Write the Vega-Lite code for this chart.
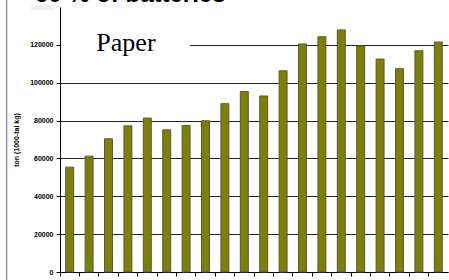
{
  "$schema": "https://vega.github.io/schema/vega-lite/v6.json",
  "width": 388,
  "height": 265,
  "autosize": {"type": "none"},
  "padding": {"left": 60, "top": 7, "right": 1, "bottom": 8},
  "background": "white",
  "config": {"view": {"stroke": null}},
  "datasets": {
    "bars": [
      {"year": "1985", "ton": 55400},
      {"year": "1986", "ton": 61200},
      {"year": "1987", "ton": 70400},
      {"year": "1988", "ton": 77200},
      {"year": "1989", "ton": 81300},
      {"year": "1990", "ton": 75100},
      {"year": "1991", "ton": 77400},
      {"year": "1992", "ton": 79900},
      {"year": "1993", "ton": 88900},
      {"year": "1994", "ton": 95400},
      {"year": "1995", "ton": 93000},
      {"year": "1996", "ton": 106300},
      {"year": "1997", "ton": 120500},
      {"year": "1998", "ton": 124300},
      {"year": "1999", "ton": 127900},
      {"year": "2000", "ton": 119400},
      {"year": "2001", "ton": 112500},
      {"year": "2002", "ton": 107400},
      {"year": "2003", "ton": 116900},
      {"year": "2004", "ton": 121500}
    ],
    "notes": [
      {"label": "Paper", "x0": 0.06, "x1": 6.7, "xm": 3.4, "ylo": 112000, "yhi": 128500, "yt": 117000}
    ],
    "heading": [
      {"label": "60 % of batteries", "xh": -1.3, "yh": 142900}
    ]
  },
  "layer": [
    {
      "data": {"name": "bars"},
      "mark": {"type": "bar", "width": {"band": 0.41}, "color": "#808000", "stroke": "#555555", "strokeWidth": 1},
      "encoding": {
        "x": {
          "field": "year",
          "type": "ordinal",
          "scale": {"paddingInner": 0, "paddingOuter": 0},
          "axis": {
            "title": null,
            "labels": false,
            "bandPosition": 0,
            "domainColor": "black",
            "tickColor": "black",
            "tickSize": 4,
            "grid": false
          }
        },
        "y": {
          "field": "ton",
          "type": "quantitative",
          "scale": {"domain": [0, 140000], "nice": false},
          "axis": {
            "title": "ton (1000-tal kg)",
            "titleFont": "Liberation Sans",
            "titleFontSize": 7,
            "titleFontWeight": "bold",
            "titleColor": "black",
            "titlePadding": 10,
            "values": [0, 20000, 40000, 60000, 80000, 100000, 120000, 140000],
            "format": "d",
            "labelOverlap": false,
            "labelFont": "Liberation Sans",
            "labelFontSize": 7,
            "labelFontWeight": "bold",
            "labelColor": {"condition": {"test": "datum.value == 140000", "value": "#e6e6e6"}, "value": "black"},
            "labelPadding": 3,
            "tickSize": 4,
            "tickColor": {"condition": {"test": "datum.value == 140000", "value": "white"}, "value": "black"},
            "domainColor": "black",
            "grid": true,
            "gridColor": {"condition": {"test": "datum.value == 140000", "value": "white"}, "value": "#222222"},
            "gridWidth": 1
          }
        }
      }
    },
    {
      "layer": [
        {
          "data": {"name": "notes"},
          "mark": {"type": "rect", "color": "white"},
          "encoding": {
            "x": {"field": "x0", "type": "quantitative", "scale": {"domain": [0, 20], "nice": false, "zero": false}, "axis": null},
            "x2": {"field": "x1"},
            "y": {"field": "ylo", "type": "quantitative", "axis": null},
            "y2": {"field": "yhi"}
          }
        },
        {
          "data": {"name": "notes"},
          "mark": {"type": "text", "font": "Liberation Serif", "fontSize": 26, "align": "center", "baseline": "alphabetic", "color": "black"},
          "encoding": {
            "x": {"field": "xm", "type": "quantitative"},
            "y": {"field": "yt", "type": "quantitative", "axis": null},
            "text": {"field": "label"}
          }
        },
        {
          "data": {"name": "heading"},
          "mark": {"type": "text", "font": "Liberation Sans", "fontSize": 24, "fontWeight": "bold", "align": "left", "baseline": "alphabetic", "color": "black"},
          "encoding": {
            "x": {"field": "xh", "type": "quantitative"},
            "y": {"field": "yh", "type": "quantitative", "axis": null},
            "text": {"field": "label"}
          }
        },
        {
          "data": {"name": "notes"},
          "mark": {"type": "rule", "color": "#9a9a9a", "strokeWidth": 1.5, "clip": false},
          "encoding": {
            "x": {"datum": -2.75, "type": "quantitative"},
            "y": {"datum": 144000, "type": "quantitative", "axis": null},
            "y2": {"datum": -10000}
          }
        }
      ],
      "resolve": {"axis": {"y": "independent"}}
    }
  ],
  "resolve": {"scale": {"x": "independent"}, "axis": {"x": "independent", "y": "independent"}}
}
